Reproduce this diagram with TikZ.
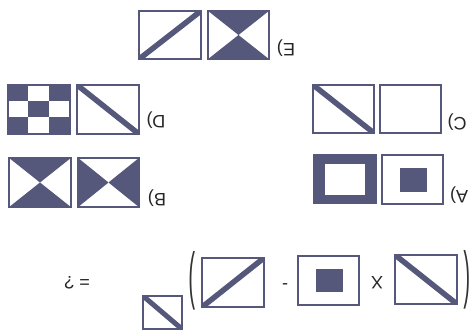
\documentclass[tikz,border=0pt]{standalone}
\usepackage{fontspec}
\setmainfont{Liberation Sans}
\usetikzlibrary{calc}
\definecolor{ink}{HTML}{55587A}
\begin{document}
\begin{tikzpicture}[x=1pt,y=-1pt,
  card/.style={draw=ink,line width=1.2pt,inner sep=0pt,fill=white},
  band/.style={draw=ink,line width=5.5pt},
  lbl/.style={rotate=180,font=\fontsize{18}{18}\selectfont,text=black!85,inner sep=0pt},
  paren/.style={rotate=180,font=\fontsize{18}{18}\selectfont,text=black!80,inner sep=0pt}]
\useasboundingbox (0,0) rectangle (471,331);
\fill[white] (0,0) rectangle (471,331);

% ---- row E ----
\node[card,minimum width=62pt,minimum height=48pt] (e1) at (170,35) {};
\begin{scope}\clip (e1.south west) rectangle (e1.north east);
\draw[band] (e1.south west) -- (e1.north east);\end{scope}
\node[card,minimum width=61pt,minimum height=48pt] (e2) at (238.5,35) {};
\fill[ink] (e2.north west) -- (e2.north east) -- (e2.center) -- cycle;
\fill[ink] (e2.south west) -- (e2.south east) -- (e2.center) -- cycle;
\draw[ink,line width=1.2pt] (e2.south west) rectangle (e2.north east);
\node[lbl] (le) at (286,48) {E)};

% ---- row D ----
\node[card,minimum width=62pt,minimum height=49pt] (d1) at (39,109.5) {};
\foreach \i/\j in {0/0,2/0,1/1,0/2,2/2}{
  \fill[ink] ($(d1.north west)+(\i*62/3,\j*49/3)$) rectangle ++(62/3,49/3);}
\draw[ink,line width=1.2pt] (d1.south west) rectangle (d1.north east);
\node[card,minimum width=62pt,minimum height=49pt] (d2) at (108,109.5) {};
\begin{scope}\clip (d2.south west) rectangle (d2.north east);
\draw[band] (d2.north west) -- (d2.south east);\end{scope}
\node[lbl] (ld) at (156,120) {D)};

% ---- row C ----
\node[card,minimum width=61pt,minimum height=48pt] (c1) at (343.5,109) {};
\begin{scope}\clip (c1.south west) rectangle (c1.north east);
\draw[band] (c1.north west) -- (c1.south east);\end{scope}
\node[card,minimum width=61pt,minimum height=48pt] (c2) at (410.5,109) {};
\node[lbl] (lc) at (457,122) {C)};

% ---- row B ----
\node[card,minimum width=62pt,minimum height=49pt] (b1) at (40,182.5) {};
\fill[ink] (b1.north west) -- (b1.north east) -- (b1.center) -- cycle;
\fill[ink] (b1.south west) -- (b1.south east) -- (b1.center) -- cycle;
\draw[ink,line width=1.2pt] (b1.south west) rectangle (b1.north east);
\node[card,minimum width=61pt,minimum height=49pt] (b2) at (108.5,182.5) {};
\fill[ink] (b2.north west) -- (b2.south west) -- (b2.center) -- cycle;
\fill[ink] (b2.north east) -- (b2.south east) -- (b2.center) -- cycle;
\draw[ink,line width=1.2pt] (b2.south west) rectangle (b2.north east);
\node[lbl] (lb) at (157,198) {B)};

% ---- row A ----
\node[card,fill=ink,minimum width=62pt,minimum height=48pt] (a1) at (345,179) {};
\fill[white] (325,164) rectangle (365,195);
\node[card,minimum width=61pt,minimum height=49pt] (a2) at (412.5,179.5) {};
\fill[ink] (400,168) rectangle (427,192);
\node[lbl] (la) at (459,195) {A)};

% ---- question row ----
\node[lbl] (qq) at (77,283) {= ?};
\node[card,minimum width=39pt,minimum height=33pt] (q1) at (162.5,312.5) {};
\begin{scope}\clip (q1.south west) rectangle (q1.north east);
\draw[band,line width=5pt] (q1.north west) -- (q1.south east);\end{scope}
\node[paren] (pl) at (192,281) {\scalebox{1.1}[3.5]{)}};
\node[card,minimum width=62pt,minimum height=49pt] (q2) at (233,282.5) {};
\begin{scope}\clip (q2.south west) rectangle (q2.north east);
\draw[band] (q2.south west) -- (q2.north east);\end{scope}
\node[lbl] (mn) at (285,282) {-};
\node[card,minimum width=61pt,minimum height=49pt] (q3) at (328.5,280.5) {};
\fill[ink] (316,269) rectangle (343,292);
\node[lbl] (tm) at (377,283) {X};
\node[card,minimum width=62pt,minimum height=49pt] (q4) at (426,279.5) {};
\begin{scope}\clip (q4.south west) rectangle (q4.north east);
\draw[band] (q4.north west) -- (q4.south east);\end{scope}
\node[paren] (pr) at (467,280) {\scalebox{1.1}[3.5]{(}};
\end{tikzpicture}
\end{document}
